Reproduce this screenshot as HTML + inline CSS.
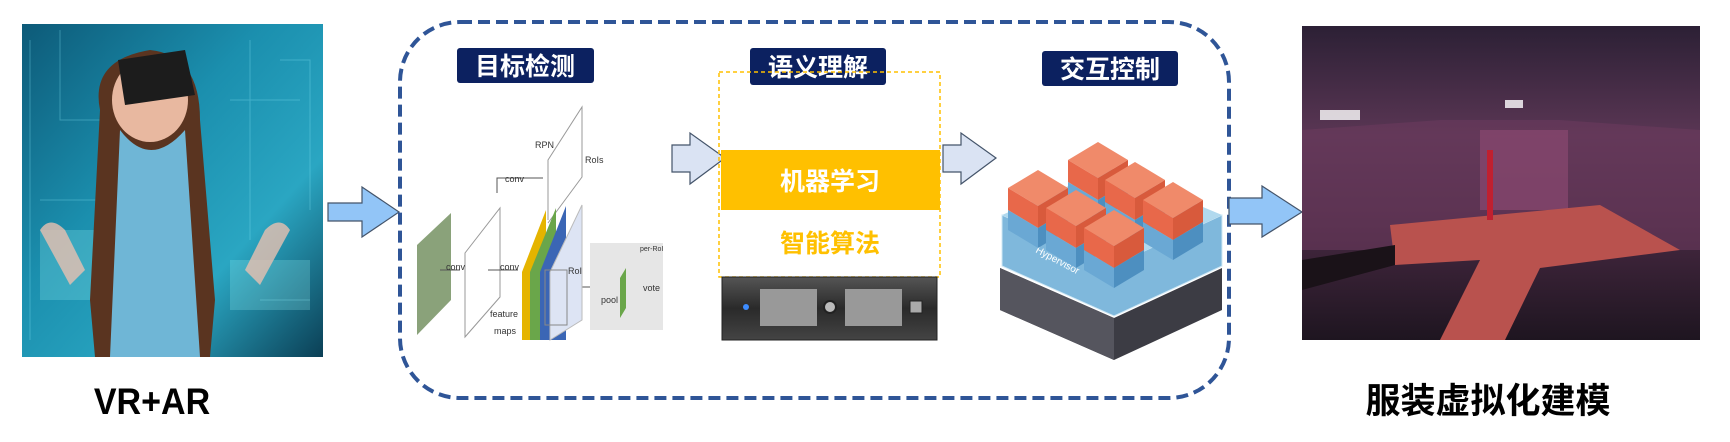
<!DOCTYPE html>
<html><head><meta charset="utf-8"><style>
html,body{margin:0;padding:0;background:#fff;width:1730px;height:442px;overflow:hidden}
svg{position:absolute;left:0;top:0}
text{font-family:"Liberation Sans","Noto Sans CJK SC",sans-serif}
</style></head><body>
<svg width="1730" height="442" viewBox="0 0 1730 442" xmlns="http://www.w3.org/2000/svg">
<defs>
<linearGradient id="vr" x1="0" y1="0" x2="1" y2="1">
<stop offset="0" stop-color="#0d5a78"/><stop offset=".4" stop-color="#1b8fae"/><stop offset=".7" stop-color="#2aa6c2"/><stop offset="1" stop-color="#0b3f55"/></linearGradient>
<linearGradient id="room" x1="0" y1="0" x2="0" y2="1">
<stop offset="0" stop-color="#2c2035"/><stop offset=".35" stop-color="#5a3654"/><stop offset=".6" stop-color="#4a2a44"/><stop offset="1" stop-color="#1e1520"/></linearGradient>
<linearGradient id="srv" x1="0" y1="0" x2="0" y2="1"><stop offset="0" stop-color="#555"/><stop offset=".5" stop-color="#2a2a2a"/><stop offset="1" stop-color="#444"/></linearGradient>
<g id="cube">
<path d="M0 0 l30 -18 l30 18 l-30 18z" fill="#f08a6a"/>
<path d="M0 0 l30 18 v22 l-30 -18z" fill="#e8684a"/>
<path d="M60 0 l-30 18 v22 l30 -18z" fill="#d85a3c"/>
<path d="M0 22 l30 18 v20 l-30 -18z" fill="#6aa8d4"/>
<path d="M60 22 l-30 18 v20 l30 -18z" fill="#4d8fc0"/>
</g>
</defs>

<!-- left photo -->
<rect x="22" y="24" width="301" height="333" fill="url(#vr)"/>
<g stroke="#7fe0f0" stroke-width="1" opacity=".35" fill="none">
<path d="M30 40v300M60 30v90h40M250 40v200M280 60h30v150M40 200h60M230 100h70M260 300h50"/></g>
<rect x="40" y="230" width="60" height="70" fill="#9ee" opacity=".25"/>
<rect x="230" y="260" width="80" height="50" fill="#9ee" opacity=".25"/>
<path d="M100 110 Q90 60 150 50 Q200 55 200 120 L215 300 L210 357 L95 357 L90 300 Z" fill="#5a3420"/>
<path d="M120 130 Q150 170 185 130 L200 357 L110 357 Z" fill="#6fb6d6"/>
<ellipse cx="150" cy="100" rx="38" ry="42" fill="#e8b8a0"/>
<path d="M118 60 L185 50 L195 95 L125 105 Z" fill="#1c1c1c"/>
<path d="M40 230 q10 -15 25 0 l20 40 l-15 15 z" fill="#e8c0b0" opacity=".8"/>
<path d="M290 230 q-10 -15 -25 0 l-20 40 l15 15 z" fill="#e8c0b0" opacity=".8"/>
<text x="152" y="414" font-size="37" font-weight="bold" text-anchor="middle" fill="#000" transform="translate(152 0) scale(0.92 1) translate(-152 0)">VR+AR</text>

<!-- arrow 1 -->
<path d="M328 203 H362 V187 L399 212 L362 237 V221 H328 Z" fill="#92c5f7" stroke="#44546a" stroke-width="1.2"/>

<!-- dashed container -->
<rect x="400" y="22" width="829" height="376" rx="60" fill="none" stroke="#2f5597" stroke-width="4" stroke-dasharray="12 6"/>

<!-- titles -->
<rect x="457" y="48" width="137" height="35" rx="3" fill="#0c2160"/>
<text x="525" y="75" font-size="25" font-weight="bold" fill="#fff" text-anchor="middle">目标检测</text>
<rect x="750" y="48" width="136" height="37" rx="3" fill="#0c2160"/>
<text x="818" y="76" font-size="25" font-weight="bold" fill="#fff" text-anchor="middle">语义理解</text>
<rect x="1042" y="51" width="136" height="35" rx="3" fill="#0c2160"/>
<text x="1110" y="78" font-size="25" font-weight="bold" fill="#fff" text-anchor="middle">交互控制</text>

<!-- RCNN diagram -->
<g stroke="#999" stroke-width="1" fill="none">
<path d="M417 245 L451 213 V300 L417 335 Z" fill="#8aa27a" stroke="none"/>
<path d="M465 253 L500 208 V297 L465 337 Z" fill="#fff"/>
<path d="M548 220 V160 L582 107 V177 L548 223"/>
<path d="M497 193 V178 H543" stroke="#555"/><path d="M440 270 H460 M488 270 H518 M560 287 H612 M633 290 H640" stroke="#555"/>
<path d="M522 272 L546 210 V340 H522 Z" fill="#e5b400" stroke="none"/>
<path d="M530 272 L556 208 V340 H530 Z" fill="#6aa64a" stroke="none"/>
<path d="M540 272 L566 206 V340 H540 Z" fill="#3b66b5" stroke="none"/>
<path d="M550 272 L582 205 V320 L550 340 Z" fill="#dde4f4" stroke="#bbb"/>
<rect x="545" y="270" width="22" height="55" stroke="#888"/>
</g>
<rect x="590" y="243" width="73" height="87" fill="#e6e6e6"/>
<path d="M620 278 l6 -10 v40 l-6 10z" fill="#6aa64a"/>
<g font-family="Liberation Serif" font-size="9" fill="#333">
<text x="446" y="270">conv</text><text x="500" y="270">conv</text><text x="505" y="182">conv</text>
<text x="535" y="148">RPN</text><text x="585" y="163">RoIs</text><text x="568" y="274">RoI</text>
<text x="601" y="303">pool</text><text x="643" y="291">vote</text><text x="640" y="251" font-size="7">per-RoI</text>
<text x="490" y="317">feature</text><text x="494" y="334">maps</text></g>

<!-- arrows 2,3 -->
<path d="M672 145 H690 V133 L725 158 L690 184 V172 H672 Z" fill="#dae3f3" stroke="#44546a" stroke-width="1.2"/>
<path d="M943 145 H961 V133 L996 158 L961 184 V172 H943 Z" fill="#dae3f3" stroke="#44546a" stroke-width="1.2"/>

<!-- semantic box -->
<rect x="719" y="72" width="221" height="205" fill="none" stroke="#ffc000" stroke-width="1.5" stroke-dasharray="4 3"/>
<rect x="721" y="150" width="219" height="60" fill="#ffc000"/>
<text x="830" y="190" font-size="25" font-weight="bold" fill="#fff" text-anchor="middle">机器学习</text>
<text x="830" y="252" font-size="25" font-weight="bold" fill="#ffc000" text-anchor="middle">智能算法</text>
<rect x="722" y="277" width="215" height="63" fill="url(#srv)" stroke="#222"/>
<rect x="760" y="289" width="57" height="37" fill="#999"/><rect x="845" y="289" width="57" height="37" fill="#999"/>
<circle cx="830" cy="307" r="6" fill="#bbb" stroke="#222" stroke-width="2"/>
<circle cx="746" cy="307" r="3" fill="#3d8cff"/>
<rect x="910" y="301" width="12" height="12" fill="#aaa" stroke="#222"/>

<!-- virtualization stack -->
<path d="M1000 268 L1114 318 L1222 268 V310 L1114 360 L1000 310 Z" fill="#3c3c44"/>
<path d="M1000 268 L1114 318 V360 L1000 310 Z" fill="#55555e"/>
<path d="M1002 215 L1114 265 L1222 215 V266 L1114 316 L1002 266 Z" fill="#7fb8dc" stroke="#cfe8f5"/>
<path d="M1002 215 L1110 168 L1222 215 L1114 265 Z" fill="#9dd0ea" opacity=".8"/>
<text x="1035" y="252" font-size="10" fill="#fff" transform="rotate(28 1035 252)">Hypervisor</text>
<use href="#cube" x="1068" y="160"/>
<use href="#cube" x="1105" y="180"/>
<use href="#cube" x="1143" y="200"/>
<use href="#cube" x="1008" y="188"/>
<use href="#cube" x="1046" y="208"/>
<use href="#cube" x="1084" y="228"/>

<!-- arrow 4 -->
<path d="M1229 198 H1262 V186 L1302 212 L1262 237 V224 H1229 Z" fill="#92c5f7" stroke="#44546a" stroke-width="1.2"/>

<!-- right photo -->
<rect x="1302" y="26" width="398" height="314" fill="url(#room)"/>
<path d="M1302 130 L1440 120 L1560 120 L1700 130 V250 L1302 250 Z" fill="#6a3a5e" opacity=".6"/>
<rect x="1480" y="130" width="88" height="80" fill="#8a4870" opacity=".7"/>
<path d="M1390 225 L1600 205 L1680 250 L1540 268 L1505 340 H1440 L1480 260 L1395 265 Z" fill="#b9524e"/>
<path d="M1302 260 L1395 245 L1395 265 L1302 290 Z" fill="#1a1218"/>
<rect x="1320" y="110" width="40" height="10" fill="#fff" opacity=".8"/>
<rect x="1505" y="100" width="18" height="8" fill="#fff" opacity=".8"/>
<path d="M1490 150 v70" stroke="#c02030" stroke-width="6"/>
<text x="1488" y="413" font-size="35" font-weight="bold" text-anchor="middle" fill="#000">服装虚拟化建模</text>
</svg>
</body></html>
